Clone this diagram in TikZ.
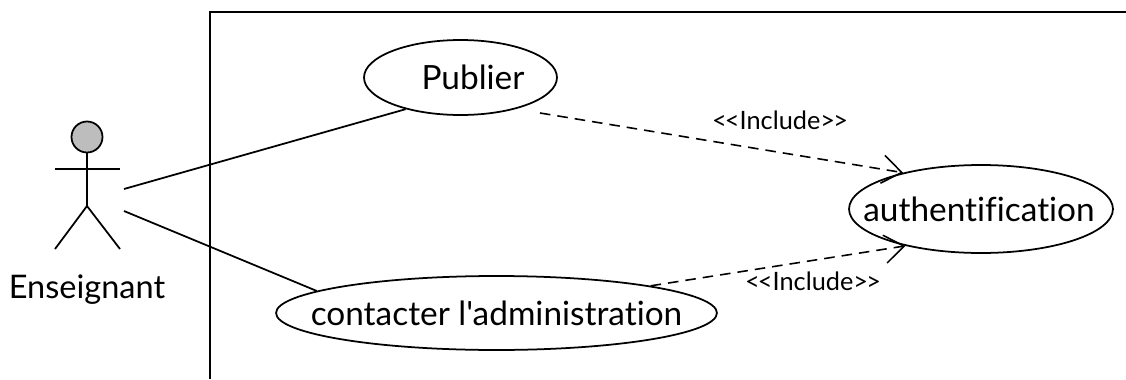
\documentclass[tikz,border=0pt]{standalone}
\usepackage{fontspec}
\setmainfont[Ligatures={TeXOff,NoCommon}]{Lato}
\usetikzlibrary{shapes.geometric,arrows.meta}

\newcommand{\casetext}[1]{\makebox[0pt]{#1}}
\tikzset{
  usecase/.style={ellipse,draw,line width=1pt,inner sep=0pt,font=\fontsize{19}{22}\selectfont},
  assoc/.style={line width=1pt},
  include/.style={line width=0.9pt,dash pattern=on 6pt off 4pt,-{Straight Barb[length=11pt,width=16pt,line width=0.9pt]}},
  stereo/.style={inner sep=0pt,font=\fontsize{14.4}{16}\selectfont},
  limb/.style={line width=1pt}
}

\begin{document}
\begin{tikzpicture}[x=0.02cm,y=-0.02cm]
    \useasboundingbox (0,0) rectangle (1126,379);
    % system box
    \draw [line width=1pt] (210,379) -- (210,12) -- (1126,12);

    % use cases
    \node [usecase,minimum width=3.86cm,minimum height=1.5cm] (publier) at (460.5,77.5) {\casetext{\kern0.5cm Publier}};
    \node [usecase,minimum width=8.82cm,minimum height=1.48cm] (contacter) at (496.5,313) {\casetext{contacter l'administration}};
    \node [usecase,minimum width=5.28cm,minimum height=1.76cm] (auth) at (981,209) {\casetext{authentification\kern0.08cm}};

    % actor
    \node [circle,draw,line width=1pt,fill=black!26,minimum size=0.62cm,inner sep=0pt] (head) at (87,137) {};
    \coordinate (hip) at (87,206);
    \coordinate (armL) at (55,169);
    \coordinate (armR) at (120,169);
    \coordinate (footL) at (55,249);
    \coordinate (footR) at (120,249);
    \draw [limb] (head) -- (hip);
    \draw [limb] (armL) -- (armR);
    \draw [limb] (footL) -- (hip) -- (footR);
    \node [font=\fontsize{18.5}{22}\selectfont] (actor) at (87,290) {Enseignant};

    % associations
    \coordinate (actorA) at (124,189);
    \coordinate (actorB) at (124,211);
    \draw [assoc] (actorA) -- (publier.210);
    \draw [assoc] (actorB) -- (contacter.173.5);

    % includes
    \coordinate (publierOut) at (540,113);
    \draw [include] (publierOut) -- (auth.155);
    \draw [include] (contacter.10) -- (auth.206);
    \node [stereo] (inclA) at (780,120) {<\kern-1pt<Include>\kern-1pt>};
    \node [stereo] (inclB) at (813,281) {<\kern-1pt<Include>\kern-1pt>};
\end{tikzpicture}
\end{document}
